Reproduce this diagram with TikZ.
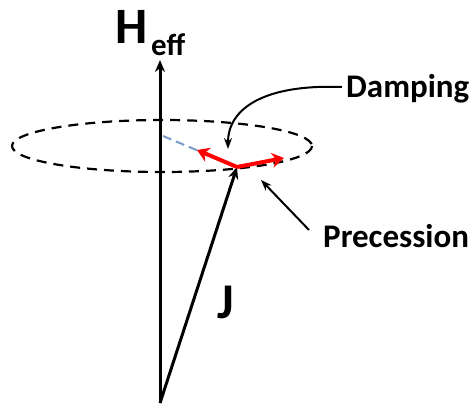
\documentclass[tikz,border=0pt]{standalone}
\usepackage{fontspec}
\setmainfont{Carlito}
\usetikzlibrary{arrows.meta}
\begin{document}
\begin{tikzpicture}[x=1pt,y=-1pt,
  axis/.style={line width=3pt,-{Stealth[length=12pt,width=10pt]}},
  callout/.style={line width=2pt,-{Stealth[length=11pt,width=8pt]}},
  redarrow/.style={red,line width=4pt,-{Stealth[length=12pt,width=15pt]}},
  lbl/.style={font=\bfseries\fontsize{33}{36}\selectfont,inner sep=0pt}]
\useasboundingbox (0,0) rectangle (474,407);
% ellipse
\draw[dash pattern=on 10pt off 7pt,line width=2.2pt] (162,146) ellipse [x radius=150, y radius=26];
% nodes
\coordinate (origin) at (160,403);
\coordinate (htop) at (160,60);
\coordinate (tip) at (237,167);
\coordinate (center) at (163,136);
\coordinate (damp) at (197,150);
\coordinate (prec) at (284,158);
\node[inner sep=0pt,anchor=base west] (H) at (115,43) {\bfseries\fontsize{51}{54}\selectfont H};
\node[inner sep=0pt,anchor=base west] (eff) at (151,55) {\bfseries\fontsize{31}{33}\selectfont eff};
\node[lbl,anchor=base west] (Damp) at (346,97) {Damping};
\node[lbl,anchor=base west] (Prec) at (323,247) {Precession};
\node[inner sep=0pt,anchor=base west] (J) at (217,318) {\bfseries\fontsize{50}{52}\selectfont J};
% axis and J vector
\draw[axis] (origin) -- (htop);
\draw[axis] (origin) -- (tip);
% blue dashed
\draw[color={rgb,255:red,120;green,155;blue,200},line width=2pt,dash pattern=on 9pt off 5pt] (center) -- (tip);
% red arrows
\draw[redarrow] (tip) -- (damp);
\draw[redarrow] (tip) -- (prec);
% callouts
\draw[callout] (342,87) .. controls (265,84) and (228,108) .. (228,149);
\draw[callout] (309,230) -- (261,180);
\end{tikzpicture}
\end{document}
